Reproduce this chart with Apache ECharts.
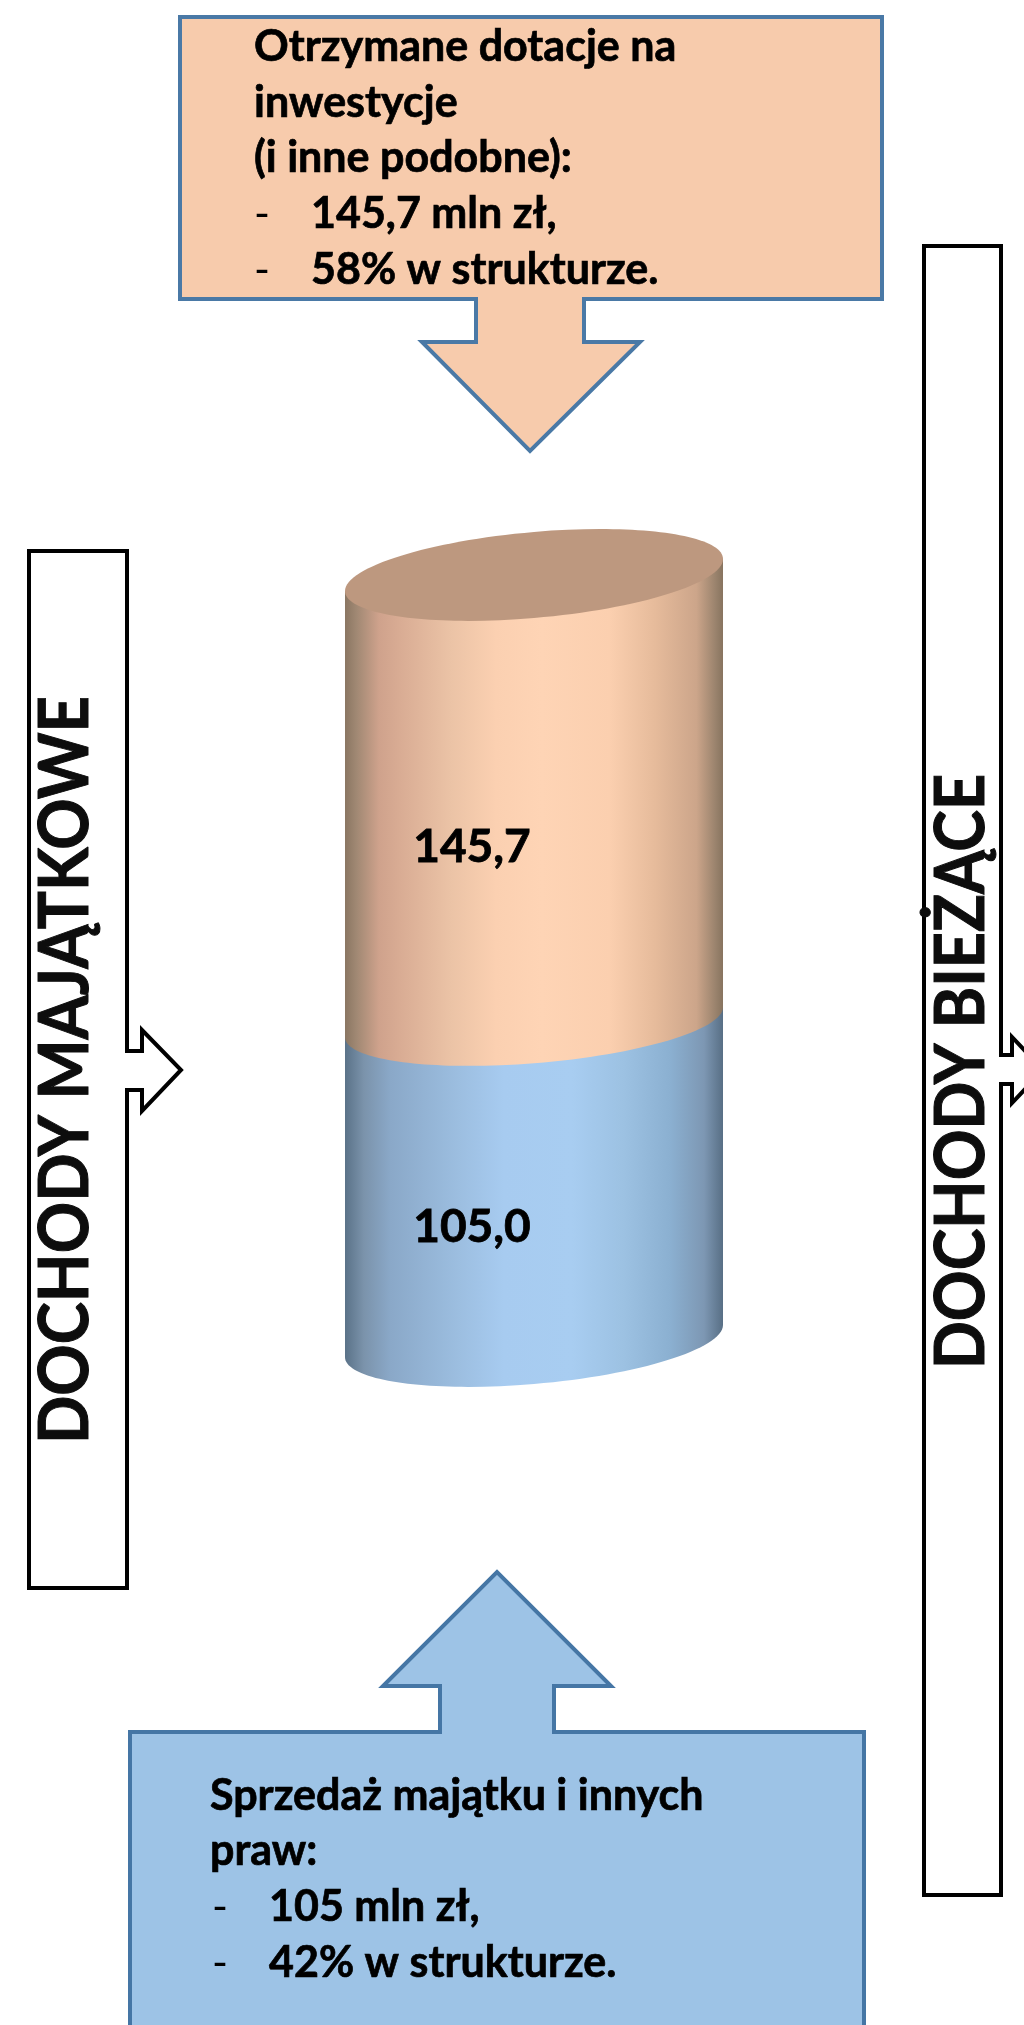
<!DOCTYPE html>
<html><head><meta charset="utf-8">
<style>html,body{margin:0;padding:0;background:#fff}#c{width:1024px;height:2025px}</style>
<script src="https://cdn.jsdelivr.net/npm/echarts@6/dist/echarts.min.js"></script>
</head><body><div id="c"></div>
<script>
const categories = ['Dochody majątkowe'];
const segmentNames = ['Sprzedaż majątku i innych praw', 'Otrzymane dotacje na inwestycje'];
const segmentValues = [105.0, 145.7];
const topLines = ['Otrzymane dotacje na', 'inwestycje', '(i inne podobne):'];
const topBullets = ['145,7 mln zł,', '58% w strukturze.'];
const bottomLines = ['Sprzedaż majątku i innych', 'praw:'];
const bottomBullets = ['105 mln zł,', '42% w strukturze.'];
const leftTitle = 'DOCHODY MAJĄTKOWE';
const rightTitle = 'DOCHODY BIEŻĄCE';

const total = segmentValues[0] + segmentValues[1];
const K = 0.5523;
function ell(cx, cy, a, b, k) { return (u, v) => [(cx + a * u).toFixed(2), (cy + k * u + b * v).toFixed(2)].join(' '); }
function front(M) {
  return `C${M(1,K)} ${M(K,1)} ${M(0,1)} C${M(-K,1)} ${M(-1,K)} ${M(-1,0)}`;
}
function full(M) {
  return `M${M(1,0)} ` + front(M) + ` C${M(-1,-K)} ${M(-K,-1)} ${M(0,-1)} C${M(K,-1)} ${M(1,-K)} ${M(1,0)} Z`;
}
const orangeStops = [[0,'#8a7662'],[0.03,'#a08873'],[0.09,'#cfa28c'],[0.14,'#d8ab93'],[0.28,'#ebc3a6'],[0.4,'#fbd0b1'],[0.52,'#fed4b5'],[0.7,'#fbcfaf'],[0.82,'#e6bb9b'],[0.93,'#cca58a'],[0.98,'#9a836d'],[1,'#88745f']];
const blueStops = [[0,'#5a7288'],[0.05,'#7b93ab'],[0.12,'#8aa8c8'],[0.3,'#9cbee0'],[0.42,'#a7cbf0'],[0.6,'#a8cdf1'],[0.74,'#9cc1e2'],[0.86,'#8bb0d1'],[0.95,'#7d97b3'],[1,'#586f85']];
function grad(stops) { return new echarts.graphic.LinearGradient(0,0,1,0, stops.map(s => ({offset:s[0], color:s[1]}))); }

function renderCyl(params, api) {
  const i = params.dataIndex;
  const start = api.value(1), end = api.value(2);
  const cx = api.coord([api.value(0), 0])[0];
  const w = api.size([1, 0])[0];
  const a = w / 2;
  const yLo = api.coord([0, start])[1], yHi = api.coord([0, end])[1];
  const yMid = (yLo + yHi) / 2;
  const children = [];
  const outer = (y) => ell(cx, y, a, 43, -16);
  const inner = (y) => ell(cx, y + 2, a, 41, -15);
  const lowM = i === 0 ? outer(yLo) : inner(yLo);
  const hiM = i === 0 ? inner(yHi) : outer(yHi);
  const path = `M${hiM(1,0)} L${lowM(1,0)} ` + front(lowM) + ` L${hiM(-1,0)} Z`;
  children.push({type:'path', shape:{pathData:path}, style:{fill:grad(i === 0 ? blueStops : orangeStops)}});
  if (i === 1) children.push({type:'path', shape:{pathData:full(outer(yHi))}, style:{fill:'#bd987f'}});
  children.push({type:'text', x: cx - 62, y: yMid + (i === 0 ? 47 : 50),
    style:{text: (end - start).toFixed(1).replace('.', ','), font:'700 46px Lato', fill:'#000', stroke:'#000', lineWidth:0.8, align:'center', verticalAlign:'middle'}});
  return {type:'group', children};
}

function poly(points, fill, stroke, lw) {
  return {type:'polygon', shape:{points}, style:{fill, stroke, lineWidth:lw, lineJoin:'miter'}};
}
function txt(s, x, y, size) {
  return {type:'text', x, y, style:{text:s, font:`700 ${size}px Lato`, fill:'#000', stroke:'#000', lineWidth:0.7, align:'left', verticalAlign:'middle'}};
}
function dash(x, y, size) {
  return {type:'text', x, y, style:{text:'-', font:`400 ${size}px Lato`, fill:'#000', align:'left', verticalAlign:'middle'}};
}
function vtxt(s, x, y, size, sx) {
  return {type:'text', x, y, rotation:Math.PI/2, scaleX:sx, style:{text:s, font:`700 ${size}px Lato`, fill:'#0d0d0d', stroke:'#0d0d0d', lineWidth:1, align:'left', verticalAlign:'middle'}};
}
const FS = 43, OFF = 13;
const graphics = [
  poly([[180,17],[882,17],[882,299],[584,299],[584,342],[640,342],[530,451],[422,342],[476,342],[476,299],[180,299]], '#f7cbac', '#4a79a6', 4),
  poly([[130,1732],[440,1732],[440,1686],[383,1686],[497,1572],[611,1686],[554,1686],[554,1732],[864,1732],[864,2040],[130,2040]], '#9dc3e6', '#4576a5', 4),
  poly([[29,551],[127,551],[127,1051],[142,1051],[142,1030],[181,1070],[142,1111],[142,1090],[127,1090],[127,1588],[29,1588]], '#fff', '#000', 4),
  poly([[924,246],[1001,246],[1001,1055],[1012,1055],[1012,1037],[1043,1070],[1012,1103],[1012,1084],[1001,1084],[1001,1895],[924,1895]], '#fff', '#000', 4),
];
[60,116,171].forEach((b,i) => graphics.push(txt(topLines[i], 254, b-OFF, FS)));
[227,283].forEach((b,i) => { graphics.push(dash(254, b-OFF, FS)); graphics.push(txt(topBullets[i], 311, b-OFF, FS)); });
[1809,1864].forEach((b,i) => graphics.push(txt(bottomLines[i], 210, b-OFF, FS)));
[1920,1976].forEach((b,i) => { graphics.push(dash(212, b-OFF, FS)); graphics.push(txt(bottomBullets[i], 269, b-OFF, FS)); });
graphics.push(vtxt(leftTitle, 66, 1444, 68, 0.935));
graphics.push(vtxt(rightTitle, 962, 1369, 68, 0.925));

const chart = echarts.init(document.getElementById('c'), null, {renderer:'canvas'});
chart.setOption({
  animation:false,
  backgroundColor:'#fff',
  grid:{left:345, width:378, top:575, height:766},
  xAxis:{type:'category', data:categories, show:false},
  yAxis:{type:'value', min:0, max:total, show:false},
  graphic:graphics,
  series:[{
    type:'custom', renderItem:renderCyl, clip:false,
    encode:{x:0, y:[1,2]},
    data:[
      {name:segmentNames[0], value:[0, 0, segmentValues[0]]},
      {name:segmentNames[1], value:[0, segmentValues[0], total]}
    ]
  }]
});
</script></body></html>
